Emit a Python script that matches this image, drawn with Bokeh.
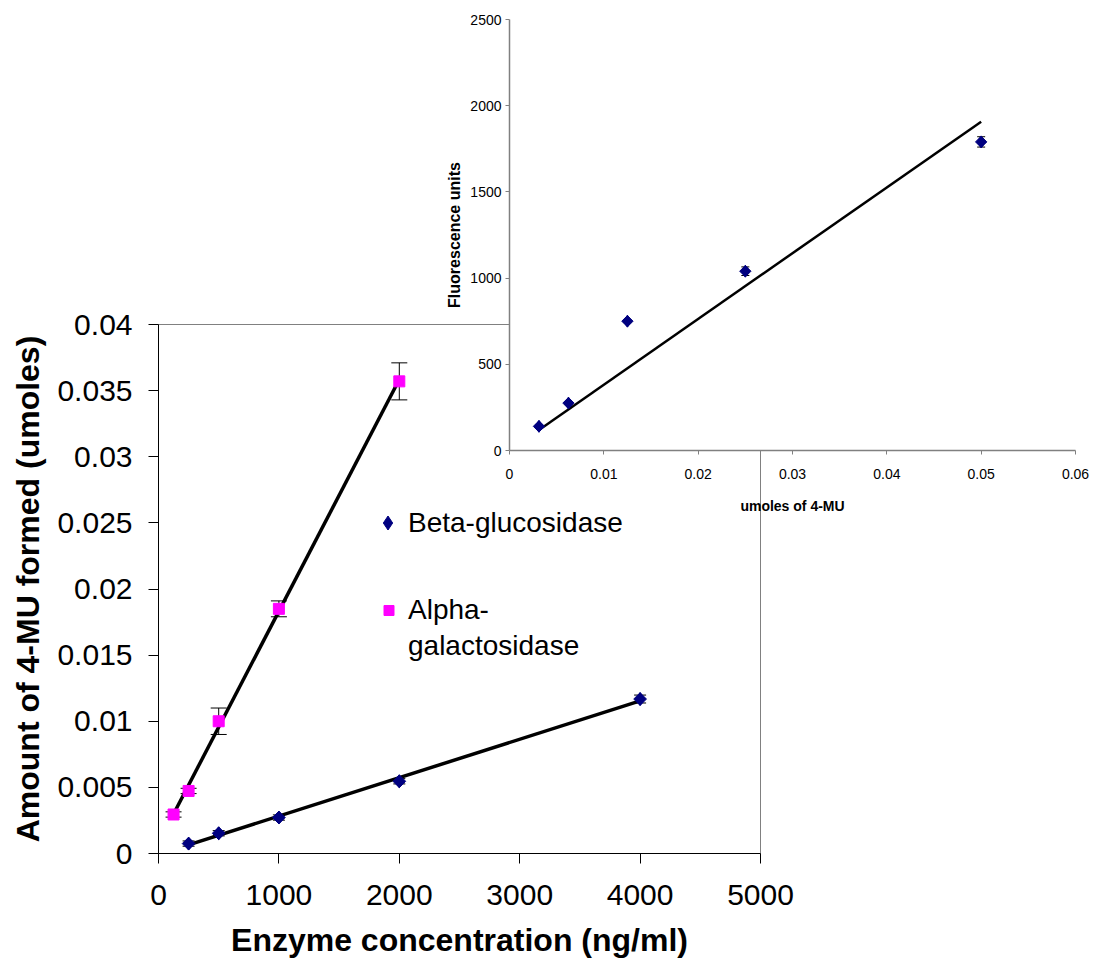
import numpy as np
from bokeh.plotting import figure
from bokeh.models import (ColumnDataSource, Whisker, TeeHead, FixedTicker, Legend,
                          LegendItem, Range1d)
from bokeh.layouts import column
from bokeh.embed import file_html
from bokeh.resources import INLINE

# ---------------- data ----------------
beta_conc = [250, 500, 1000, 2000, 4000]
beta_umol = [0.00075, 0.00153, 0.00272, 0.00546, 0.01168]
beta_err = [0.0002, 0.0002, 0.0002, 0.0002, 0.0003]

alpha_conc = [125, 250, 500, 1000, 2000]
alpha_umol = [0.00295, 0.00473, 0.0100, 0.0185, 0.0357]
alpha_err = [0.0002, 0.0002, 0.0010, 0.0006, 0.0014]

std_umol = [0.003125, 0.00625, 0.0125, 0.025, 0.05]
std_fluor = [140, 275, 750, 1040, 1790]
std_err = [8, 8, 8, 25, 30]

main_xticks = [0, 1000, 2000, 3000, 4000, 5000]
main_xtick_labels = ["0", "1000", "2000", "3000", "4000", "5000"]
main_yticks = [0, 0.005, 0.01, 0.015, 0.02, 0.025, 0.03, 0.035, 0.04]
main_ytick_labels = ["0", "0.005", "0.01", "0.015", "0.02", "0.025", "0.03", "0.035", "0.04"]

inset_xticks = [0, 0.01, 0.02, 0.03, 0.04, 0.05, 0.06]
inset_xtick_labels = ["0", "0.01", "0.02", "0.03", "0.04", "0.05", "0.06"]
inset_yticks = [0, 500, 1000, 1500, 2000, 2500]
inset_ytick_labels = ["0", "500", "1000", "1500", "2000", "2500"]

legend_labels = ["Beta-glucosidase", "Alpha-", "galactosidase"]

NAVY = "#000080"
MAGENTA = "#FF00FF"
FONT = "Liberation Sans"

# ---------------- main chart ----------------
p = figure(width=1098, height=965, x_range=Range1d(0, 5000), y_range=Range1d(0, 0.04),
           output_backend="svg", toolbar_location=None,
           min_border_left=158, min_border_right=338, min_border_top=324,
           min_border_bottom=112)
p.frame_align = False
p.grid.visible = False
p.outline_line_color = "#808080"
p.outline_line_width = 1
p.background_fill_color = "white"
p.border_fill_color = "white"

p.xaxis.ticker = FixedTicker(ticks=main_xticks)
p.xaxis.major_label_overrides = {t: l for t, l in zip(main_xticks, main_xtick_labels)}
p.yaxis.ticker = FixedTicker(ticks=main_yticks)
p.yaxis.major_label_overrides = {t: l for t, l in zip(main_yticks, main_ytick_labels)}
for ax in (p.xaxis, p.yaxis):
    ax.axis_line_color = "black"
    ax.axis_line_width = 1
    ax.major_tick_line_color = "black"
    ax.major_tick_in = 0
    ax.major_tick_out = 10
    ax.minor_tick_line_color = None
    ax.major_label_text_font = FONT
    ax.major_label_text_font_size = "30px"
    ax.major_label_text_color = "black"
    ax.axis_label_text_font = FONT
    ax.axis_label_text_font_size = "32px"
    ax.axis_label_text_font_style = "bold"
    ax.axis_label_text_color = "black"
p.xaxis.axis_label = "Enzyme concentration (ng/ml)"
p.yaxis.axis_label = "Amount of 4-MU formed (umoles)"
p.xaxis.major_label_standoff = 21
p.yaxis.major_label_standoff = 16
p.xaxis.axis_label_standoff = 14
p.yaxis.axis_label_standoff = 8

# trend lines (linear least squares)
ka, ba = np.polyfit(alpha_conc, alpha_umol, 1)
kb, bb = np.polyfit(beta_conc, beta_umol, 1)
ax_line = np.array([min(alpha_conc), max(alpha_conc)])
bx_line = np.array([min(beta_conc), max(beta_conc)])
p.line(ax_line, ka * ax_line + ba, line_color="black", line_width=3.5)
p.line(bx_line, kb * bx_line + bb, line_color="black", line_width=3.5)

src_a = ColumnDataSource(dict(x=alpha_conc, y=alpha_umol,
                              lo=[v - e for v, e in zip(alpha_umol, alpha_err)],
                              hi=[v + e for v, e in zip(alpha_umol, alpha_err)]))
src_b = ColumnDataSource(dict(x=beta_conc, y=beta_umol,
                              lo=[v - e for v, e in zip(beta_umol, beta_err)],
                              hi=[v + e for v, e in zip(beta_umol, beta_err)]))
for src, w in ((src_a, 16), (src_b, 12)):
    p.add_layout(Whisker(source=src, base="x", lower="lo", upper="hi",
                         line_color="black", line_width=1,
                         lower_head=TeeHead(size=w, line_color="black", line_width=1),
                         upper_head=TeeHead(size=w, line_color="black", line_width=1)))

p.scatter("x", "y", source=src_b, marker="square", angle=np.pi / 4, size=9,
          fill_color=NAVY, line_color=NAVY)
rb = p.scatter("x", "y", source=src_b, marker="diamond", size=13,
               fill_color=NAVY, line_color=NAVY)
ra = p.scatter("x", "y", source=src_a, marker="square", size=11,
               fill_color=MAGENTA, line_color=MAGENTA)
ghost = p.scatter("x", "y", source=src_a, marker="square", size=1,
                  fill_alpha=0, line_alpha=0)

common = dict(orientation="vertical", label_text_font=FONT, label_text_font_size="28px",
              label_text_color="black", padding=0, margin=0, spacing=0,
              background_fill_alpha=0, border_line_color=None,
              inactive_fill_alpha=0)
leg_a = Legend(items=[LegendItem(label=legend_labels[0], renderers=[rb])],
               location=(211, 313), glyph_width=37, glyph_height=35,
               label_standoff=2, **common)
leg_b = Legend(items=[LegendItem(label=legend_labels[1], renderers=[ra])] +
                     [LegendItem(label=legend_labels[2], renderers=[ghost])],
               location=(218, 189), glyph_width=25, glyph_height=36,
               label_standoff=7, **common)
p.add_layout(leg_a)
p.add_layout(leg_b)

# ---------------- inset chart ----------------
q = figure(width=668, height=530, x_range=Range1d(0, 0.06), y_range=Range1d(0, 2500),
           output_backend="svg", toolbar_location=None,
           min_border_left=79, min_border_right=23, min_border_top=19,
           min_border_bottom=80,
           styles={"position": "absolute", "left": "430px", "top": "0px"})
q.frame_align = False
q.grid.visible = False
q.outline_line_color = None
q.background_fill_color = "white"
q.border_fill_alpha = 0
q.xaxis.ticker = FixedTicker(ticks=inset_xticks)
q.xaxis.major_label_overrides = {t: l for t, l in zip(inset_xticks, inset_xtick_labels)}
q.yaxis.ticker = FixedTicker(ticks=inset_yticks)
q.yaxis.major_label_overrides = {t: l for t, l in zip(inset_yticks, inset_ytick_labels)}
for ax in (q.xaxis, q.yaxis):
    ax.axis_line_color = "#808080"
    ax.axis_line_width = 1.5
    ax.major_tick_line_color = "#808080"
    ax.major_tick_in = 0
    ax.major_tick_out = 4
    ax.minor_tick_line_color = None
    ax.major_label_text_font = FONT
    ax.major_label_text_font_size = "14px"
    ax.major_label_text_color = "black"
    ax.axis_label_text_font = FONT
    ax.axis_label_text_font_style = "bold"
    ax.axis_label_text_color = "black"
q.xaxis.axis_label = "umoles of 4-MU"
q.xaxis.axis_label_text_font_size = "14px"
q.yaxis.axis_label = "Fluorescence units"
q.yaxis.axis_label_text_font_size = "16px"
q.xaxis.major_label_standoff = 14
q.yaxis.major_label_standoff = 4
q.xaxis.axis_label_standoff = 16
q.yaxis.axis_label_standoff = 4

# trend line through origin
su = np.array(std_umol)
sf = np.array(std_fluor)
k0 = float((su * sf).sum() / (su * su).sum())
sx_line = np.array([min(std_umol), max(std_umol)])
q.line(sx_line, k0 * sx_line, line_color="black", line_width=2.5)

src_s = ColumnDataSource(dict(x=std_umol, y=std_fluor,
                              lo=[v - e for v, e in zip(std_fluor, std_err)],
                              hi=[v + e for v, e in zip(std_fluor, std_err)]))
q.add_layout(Whisker(source=src_s, base="x", lower="lo", upper="hi",
                     line_color="black", line_width=1,
                     lower_head=TeeHead(size=8, line_color="black", line_width=1),
                     upper_head=TeeHead(size=8, line_color="black", line_width=1)))
q.scatter("x", "y", source=src_s, marker="square", angle=np.pi / 4, size=8,
          fill_color=NAVY, line_color=NAVY)
q.scatter("x", "y", source=src_s, marker="diamond", size=12,
          fill_color=NAVY, line_color=NAVY)

layout = column(p, q, spacing=0)
open("out.html", "w").write(file_html(layout, INLINE))
